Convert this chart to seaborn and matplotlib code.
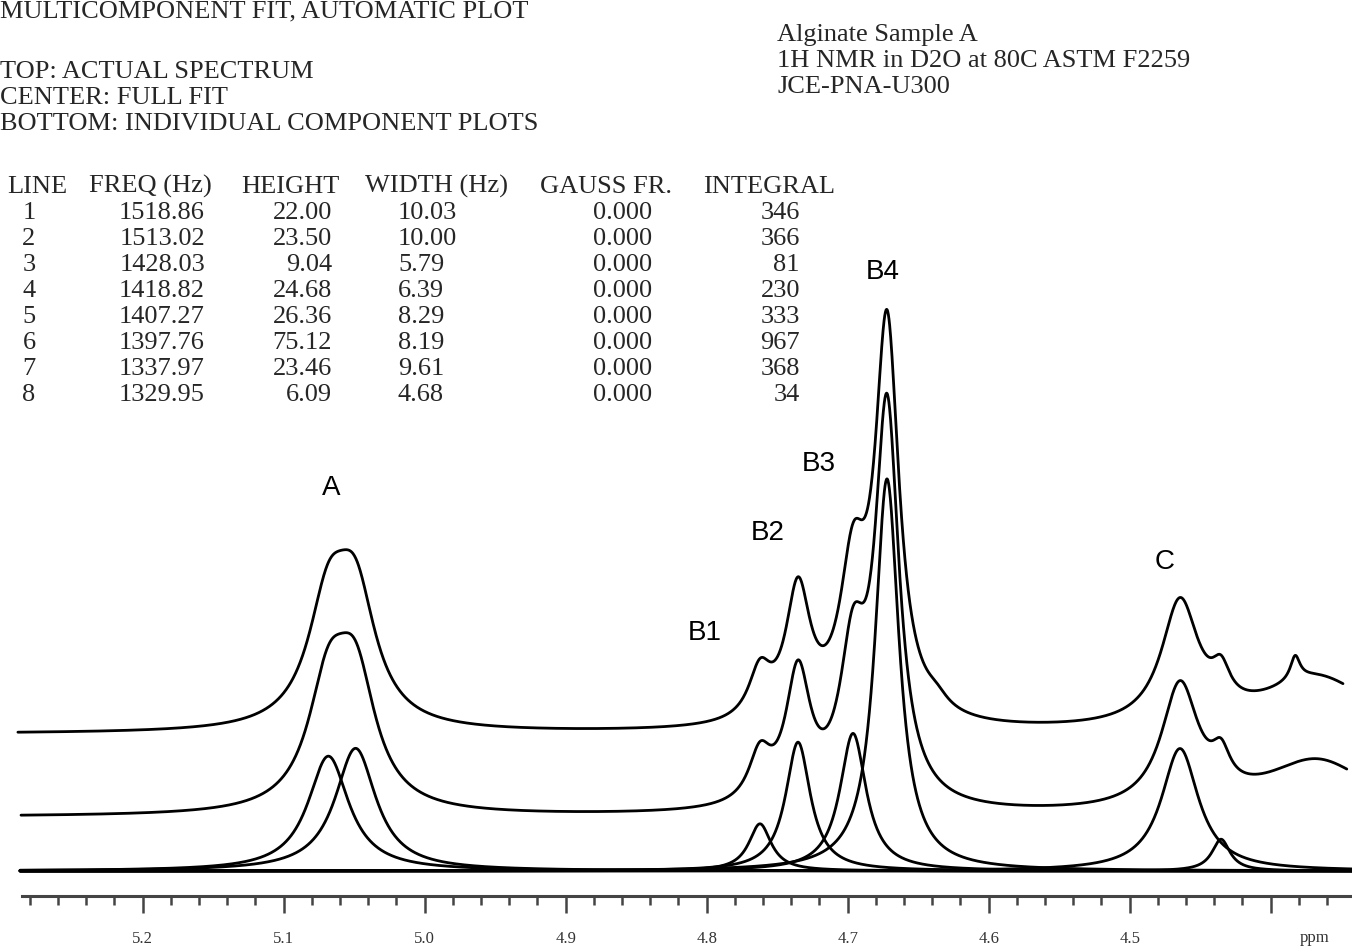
import numpy as np
import pandas as pd
import seaborn as sns
import matplotlib.pyplot as plt
from matplotlib.ticker import FixedLocator, FixedFormatter

# fit table, as printed on the plot
line_no = [1, 2, 3, 4, 5, 6, 7, 8]
freq_hz = [1518.86, 1513.02, 1428.03, 1418.82, 1407.27, 1397.76, 1337.97, 1329.95]
height = [22.00, 23.50, 9.04, 24.68, 26.36, 75.12, 23.46, 6.09]
width_hz = [10.03, 10.00, 5.79, 6.39, 8.29, 8.19, 9.61, 4.68]
gauss_fr = [0.000, 0.000, 0.000, 0.000, 0.000, 0.000, 0.000, 0.000]
integral = [346, 366, 81, 230, 333, 967, 368, 34]
spec_mhz = 300.0

# how the components are actually drawn (position and width)
peak_ppm = [5.0683, 5.0490, 4.7622, 4.7352, 4.6962, 4.6721, 4.4643, 4.4352]
drawn_width_hz = [10.6, 10.6, 5.79, 6.39, 6.8, 6.2, 9.61, 4.68]

# broad baseline term of the fit
fit_bl_ppm, fit_bl_height, fit_bl_width_hz = 4.367, 10.3, 28.0
# small unfitted lines that only show in the real spectrum
extra_ppm = [4.3826, 4.6370]
extra_height = [4.6, 2.0]
extra_width_hz = [2.5, 6.0]

# peak labels
peak_names = ["A", "B1", "B2", "B3", "B4", "C"]
peak_name_ppm = [5.0665, 4.8013, 4.7565, 4.7204, 4.6750, 4.4750]
peak_name_y = [73.4, 45.6, 64.8, 78.0, 114.8, 59.2]

major_ticks = [5.2, 5.1, 5.0, 4.9, 4.8, 4.7, 4.6, 4.5, 4.4]
major_labels = ["5.2", "5.1", "5.0", "4.9", "4.8", "4.7", "4.6", "4.5", ""]

header_left = ["TOP: ACTUAL SPECTRUM", "CENTER: FULL FIT", "BOTTOM: INDIVIDUAL COMPONENT PLOTS"]
header_right = ["Alginate Sample A", "1H NMR in D2O at 80C ASTM F2259", "JCE-PNA-U300"]


def line_shape(x, p0, h, fwhm_hz, g=0.0):
    hw = fwhm_hz / 2.0 / spec_mhz
    lor = 1.0 / (1.0 + ((x - p0) / hw) ** 2)
    gau = np.exp(-np.log(2) * ((x - p0) / hw) ** 2)
    return h * ((1 - g) * lor + g * gau)


W, H = 1352, 948
PX = 5.22             # pixels per height unit
BASE = 871            # pixel row of the component baseline
x_left, x_right = 5.3012, 4.3423

x_comp = np.linspace(5.2870, x_right, 4000)
x_fit = np.linspace(5.2863, 4.3460, 4000)
x_top = np.linspace(5.2885, 4.3487, 4000)

center_off = 54 / PX
top_off = center_off + 83 / PX


def full_fit(x):
    y = sum(line_shape(x, p, h, w, g) for p, h, w, g in zip(peak_ppm, height, drawn_width_hz, gauss_fr))
    return y + line_shape(x, fit_bl_ppm, fit_bl_height, fit_bl_width_hz)


def spectrum(x):
    return full_fit(x) + sum(line_shape(x, p, h, w) for p, h, w in zip(extra_ppm, extra_height, extra_width_hz))


frames = []
for i in range(len(line_no)):
    frames.append(pd.DataFrame({"ppm": x_comp,
                                "y": line_shape(x_comp, peak_ppm[i], height[i], drawn_width_hz[i], gauss_fr[i]),
                                "curve": f"line {line_no[i]}"}))
frames.append(pd.DataFrame({"ppm": x_fit, "y": full_fit(x_fit) + center_off, "curve": "fit"}))
frames.append(pd.DataFrame({"ppm": x_top, "y": spectrum(x_top) + top_off, "curve": "spectrum"}))
df = pd.concat(frames, ignore_index=True)

sns.set_style("white")
plt.rcParams["font.family"] = ["Liberation Serif", "DejaVu Serif"]

fig = plt.figure(figsize=(W / 100, H / 100), dpi=100)
ax = fig.add_axes([0, 0, 1, 1])
ax.set_facecolor("white")

sns.lineplot(data=df, x="ppm", y="y", units="curve", estimator=None, sort=False,
             color="black", linewidth=2.0, ax=ax, legend=False)

ax.set_xlim(x_left, x_right)
ax.set_ylim(-(H - BASE) / PX, BASE / PX)
ax.set_xlabel("")
ax.set_ylabel("")
ax.set_yticks([])

for s in ["top", "left", "right"]:
    ax.spines[s].set_visible(False)
ax.spines["bottom"].set_position(("data", (BASE - 896) / PX))
ax.spines["bottom"].set_bounds(5.2856, x_right)
ax.spines["bottom"].set_linewidth(2.2)
ax.spines["bottom"].set_color("#444444")

minor = [m for m in np.round(np.arange(4.36, 5.281, 0.02), 2) if not np.isclose(m * 10, round(m * 10))]
ax.xaxis.set_major_locator(FixedLocator(major_ticks))
ax.xaxis.set_major_formatter(FixedFormatter(major_labels))
ax.xaxis.set_minor_locator(FixedLocator(minor))
ax.tick_params(axis="x", which="major", direction="out", length=12, width=1.8,
               color="#444444", labelsize=12, labelcolor="#333333", pad=13.5, bottom=True)
ax.tick_params(axis="x", which="minor", direction="out", length=6.5, width=1.8,
               color="#444444", bottom=True)
fig.text(1315 / W, 1 - 942 / H, "ppm", ha="center", va="baseline", fontsize=12, color="#333333")

# peak labels
for name, xp, yp in zip(peak_names, peak_name_ppm, peak_name_y):
    ax.text(xp, yp, name, ha="center", va="center", fontsize=20,
            family=["Liberation Sans", "DejaVu Sans"], color="black")

# header text
hfs = 19
fig.text(0, 1 - 17 / H, "MULTICOMPONENT FIT, AUTOMATIC PLOT", ha="left", va="baseline", fontsize=hfs)
for k, t in enumerate(header_left):
    fig.text(0, 1 - (78 + 26 * k) / H, t, ha="left", va="baseline", fontsize=hfs)
for k, t in enumerate(header_right):
    fig.text(777 / W, 1 - (41 + 26 * k) / H, t, ha="left", va="baseline", fontsize=hfs)

# fit table
cols = [("LINE", 7), ("FREQ (Hz)", 89), ("HEIGHT", 241), ("WIDTH (Hz)", 365),
        ("GAUSS FR.", 540), ("INTEGRAL", 703)]
for t, xp in cols:
    fig.text(xp / W, 1 - 193 / H, t, ha="left", va="baseline", fontsize=hfs)
for r in range(len(line_no)):
    yb = 1 - (219 + 26 * r) / H
    fig.text(29 / W, yb, str(line_no[r]), ha="center", va="baseline", fontsize=hfs)
    fig.text(205 / W, yb, f"{freq_hz[r]:.2f}", ha="right", va="baseline", fontsize=hfs)
    fig.text(332 / W, yb, f"{height[r]:.2f}", ha="right", va="baseline", fontsize=hfs)
    fig.text(398 / W, yb, f"{width_hz[r]:.2f}", ha="left", va="baseline", fontsize=hfs)
    fig.text(652 / W, yb, f"{gauss_fr[r]:.3f}", ha="right", va="baseline", fontsize=hfs)
    fig.text(800 / W, yb, f"{integral[r]}", ha="right", va="baseline", fontsize=hfs)

fig.savefig("out.png", dpi=100, facecolor="white")
